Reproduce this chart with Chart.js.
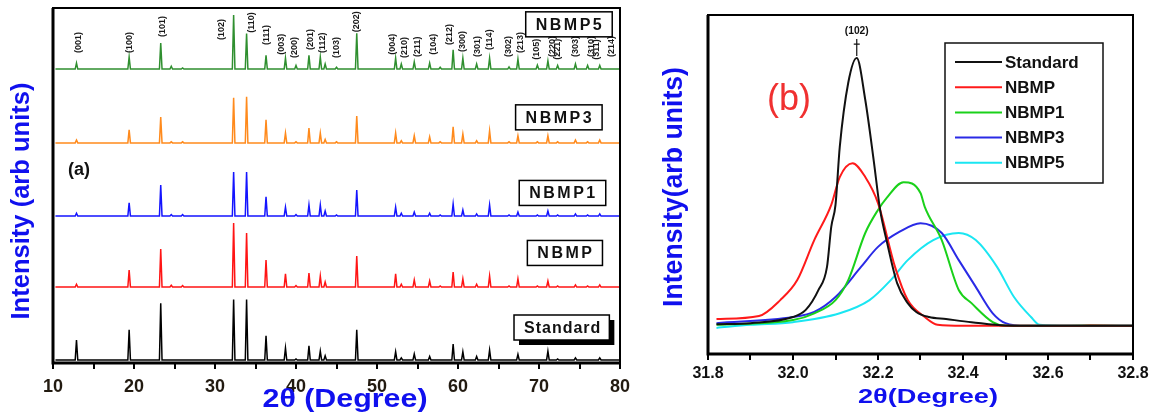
<!DOCTYPE html>
<html lang="en">
<head>
<meta charset="UTF-8">
<title>XRD patterns NBMP</title>
<script src="https://cdn.jsdelivr.net/npm/chart.js"></script>
<style>
  body { margin: 0; background: #fff; }
  .wrap { position: relative; width: 1158px; height: 414px; }
  canvas { position: absolute; top: 0; }
  #xrd { left: 0; }
  #peak { left: 640px; }
</style>
</head>
<body>
<div class="wrap">
  <canvas id="xrd" width="640" height="414"></canvas>
  <canvas id="peak" width="518" height="414"></canvas>
</div>
<script>
// ---------- panel (a): full patterns, stacked (arb. units) ----------
const samples = ['Standard', 'NBMP', 'NBMP1', 'NBMP3', 'NBMP5'];
const offsets = [0.85, 21.4, 41.4, 62, 82.8];
const peakPos = [12.9, 19.4, 23.3, 24.6, 26.0, 32.3, 33.9, 36.3, 38.7, 40.0, 41.6, 43.0, 43.6, 45.0, 47.5, 52.3,
                 53.0, 54.6, 56.5, 57.8, 59.4, 60.6, 62.3, 63.9, 66.3, 67.4, 69.8, 71.1, 72.3, 74.5, 76.0, 77.5];
const hStandard = [5.6, 8.5, 16, 0, 0, 17, 17, 6.8, 3.4, 0.3, 4, 2.5, 1.2, 0, 8.5, 2.3,
                   0.6, 1.7, 1, 0, 4.5, 2.3, 1, 2.8, 0, 1.6, 0, 2.5, 0.3, 0.6, 0, 0.6];
const hNBMP = [0.8, 4.8, 10.7, 0.5, 0.4, 18, 15.2, 7.6, 3.7, 0.4, 3.9, 3.1, 1.4, 0, 8.7, 3.7,
               0.8, 2, 1.7, 0.3, 4.2, 2.3, 0.8, 3.1, 0.3, 2.3, 0.3, 1.7, 0.3, 0.6, 0.3, 0.6];
const hNBMP1 = [0.8, 3.7, 8.7, 0.4, 0.4, 12.4, 12.4, 5.4, 2.5, 0.4, 3.1, 3.1, 1.4, 0.3, 7.3, 2.5,
                0.8, 1.1, 0.8, 0.3, 3.4, 1.7, 0.6, 3.1, 0.3, 1.1, 0.3, 1.4, 0.3, 0.6, 0.3, 0.6];
const hNBMP3 = [0.8, 3.7, 7.3, 0.3, 0.3, 12.7, 13, 6.5, 2.8, 0.3, 4.2, 2.8, 1, 0.3, 7.6, 2.8,
                0.6, 2, 1.7, 0.3, 4.5, 2.5, 0.6, 3.4, 0.3, 2, 0.3, 2, 0.3, 0.8, 0.3, 0.8];
const hNBMP5 = [1.7, 3.4, 7.3, 0.8, 0.3, 15.2, 10, 3.9, 3.1, 1, 3.9, 3.4, 1.4, 0.5, 10.1, 3.1,
                1.4, 2, 1.7, 0.5, 5.4, 3.1, 1.4, 3.1, 0.6, 2.8, 1.1, 2.3, 1, 1.4, 1, 1];
const colorsA = ['#000000', '#ff1414', '#1414ff', '#ff8a1c', '#2f8f2f'];

// miller indices written above the NBMP5 pattern
const hkl = ['(001)', '(100)', '(101)', '(102)', '(110)', '(111)', '(003)', '(200)', '(201)', '(112)',
             '(103)', '(202)', '(004)', '(210)', '(211)', '(104)', '(212)', '(300)', '(301)', '(114)',
             '(302)', '(213)', '(105)', '(220)', '(221)', '(303)', '(310)', '(311)', '(214)'];
const hklPos = [13.2, 19.5, 23.5, 30.8, 34.5, 36.4, 38.2, 39.8, 41.8, 43.3, 45.0, 47.5, 51.9, 53.4, 55.0,
                57.0, 58.9, 60.5, 62.4, 63.9, 66.2, 67.7, 69.7, 71.7, 72.3, 74.5, 76.5, 77.1, 79.0];
const hklBase = [87.3, 87.3, 91.8, 91.0, 93.0, 89.6, 86.8, 85.9, 88.2, 87.3, 85.9, 93.2, 86.8, 85.9, 86.2,
                 86.8, 89.6, 87.6, 86.2, 88.2, 86.2, 87.3, 85.4, 86.2, 85.4, 86.2, 86.2, 85.4, 86.2];

// sample name tags at the right of each pattern
const tagX = [72.8, 73.2, 72.9, 72.45, 73.7];
const tagY = [10, 31, 47.9, 69.2, 95.4];

// ---------- panel (b): (102) peak close-up ----------
const stdX = [31.82, 31.9, 32.0, 32.03, 32.06, 32.08, 32.09, 32.10, 32.11, 32.13, 32.15, 32.17, 32.19,
              32.205, 32.22, 32.245, 32.27, 32.29, 32.32, 32.36, 32.42, 32.5, 32.6, 32.7, 32.8];
const stdY = [8.8, 9.1, 10.9, 13, 18.9, 25.7, 37.5, 44, 61, 80, 87.3, 75, 57, 42.5, 33.6, 20.9, 15, 12.4,
              10.9, 10.3, 9.4, 8.4, 8.3, 8.3, 8.3];
const nbmpX = [31.82, 31.92, 31.97, 32.01, 32.05, 32.09, 32.11, 32.14, 32.17, 32.2, 32.24, 32.27, 32.31,
               32.34, 32.4, 32.5, 32.66, 32.7, 32.8];
const nbmpY = [10.3, 11.2, 15.9, 21.8, 33.6, 44, 52.2, 56.3, 52.2, 44.5, 25.7, 15.9, 10.9, 8.6, 8.3, 8.3,
               8.3, 8.4, 8.3];
const nbmp1X = [31.82, 32.0, 32.05, 32.1, 32.13, 32.17, 32.2, 32.22, 32.26, 32.3, 32.31, 32.35, 32.39,
                32.42, 32.47, 32.5, 32.6, 32.7, 32.8];
const nbmp1Y = [8.6, 10, 12, 15.9, 21.8, 35.7, 42.5, 46, 50.7, 47.5, 43.4, 33.6, 18.9, 15, 9.4, 8.3, 8.3,
                8.4, 8.3];
const nbmp3X = [31.82, 32.0, 32.05, 32.1, 32.16, 32.2, 32.25, 32.3, 32.35, 32.39, 32.43, 32.47, 32.5,
                32.55, 32.6, 32.7, 32.8];
const nbmp3Y = [9.1, 10.9, 12.4, 16.8, 25.7, 31.6, 36, 38.6, 35.7, 27.7, 19.8, 12, 9.1, 8.3, 8.3, 8.3, 8.3];
const nbmp5X = [31.82, 31.9, 32.0, 32.11, 32.18, 32.23, 32.27, 32.33, 32.39, 32.43, 32.48, 32.52, 32.56,
                32.58, 32.65, 32.7, 32.8];
const nbmp5Y = [7.7, 8.6, 9.4, 12, 15.9, 21.8, 27.7, 33.6, 35.7, 33.6, 25.7, 16.8, 10.9, 8.6, 8.3, 8.3, 8.3];
const colorsB = ['#111111', '#ff1a1a', '#1ad11a', '#2a2ae6', '#1ae6f2'];

const FONT = '"Liberation Sans", Arial, Helvetica, sans-serif';
Chart.defaults.font.family = FONT;
Chart.defaults.color = '#111';

// stick-like peaks on a flat baseline
function pattern(base, heights) {
    const w = 0.16;
    const pts = [{ x: 10.3, y: base }];
    peakPos.forEach((p, i) => {
        if (!heights[i]) return;
        pts.push({ x: p - w, y: base }, { x: p, y: base + heights[i] }, { x: p + w, y: base });
    });
    pts.push({ x: 79.9, y: base });
    return pts;
}

function zip(xs, ys) {
    return xs.map((v, i) => ({ x: v, y: ys[i] }));
}

function fitText(ctx, text, x, y, font, color, width, rotate) {
    ctx.save();
    ctx.font = font;
    ctx.fillStyle = color;
    ctx.textAlign = 'center';
    ctx.textBaseline = 'middle';
    ctx.translate(x, y);
    if (rotate) ctx.rotate(-Math.PI / 2);
    if (width) ctx.scale(width / ctx.measureText(text).width, 1);
    ctx.fillText(text, 0, 0);
    ctx.restore();
}

function drawFrame(chart) {
    const { ctx, chartArea: a } = chart;
    ctx.save();
    ctx.strokeStyle = '#000';
    ctx.lineWidth = 2;
    ctx.strokeRect(a.left, a.top, a.right - a.left, a.bottom - a.top);
    ctx.lineWidth = 3;
    ctx.beginPath();
    ctx.moveTo(a.left, a.top);
    ctx.lineTo(a.left, a.bottom);
    ctx.lineTo(a.right, a.bottom);
    ctx.stroke();
    ctx.restore();
}

const xrdDecor = {
    id: 'xrdDecor',
    afterDatasetsDraw(chart) {
        const { ctx, scales: { x, y } } = chart;
        drawFrame(chart);

        // hkl labels, rotated
        ctx.save();
        ctx.font = 'bold 9px ' + FONT;
        ctx.fillStyle = '#1a1a1a';
        ctx.textAlign = 'left';
        ctx.textBaseline = 'middle';
        hkl.forEach((t, i) => {
            ctx.save();
            ctx.translate(x.getPixelForValue(hklPos[i]), y.getPixelForValue(hklBase[i]));
            ctx.rotate(-Math.PI / 2);
            ctx.fillText(t, 0, 0);
            ctx.restore();
        });
        ctx.restore();

        // boxed sample names
        samples.forEach((t, i) => {
            const cx = x.getPixelForValue(tagX[i]);
            const cy = y.getPixelForValue(tagY[i]);
            ctx.save();
            ctx.font = 'bold 16px ' + FONT;
            ctx.letterSpacing = t === 'Standard' ? '1px' : '2.5px';
            const w = ctx.measureText(t).width + 18;
            const h = 25;
            if (t === 'Standard') {
                ctx.fillStyle = '#000';
                ctx.fillRect(cx - w / 2 + 5, cy - h / 2 + 5, w, h);
            }
            ctx.fillStyle = '#fff';
            ctx.fillRect(cx - w / 2, cy - h / 2, w, h);
            ctx.lineWidth = 1.5;
            ctx.strokeStyle = '#000';
            ctx.strokeRect(cx - w / 2, cy - h / 2, w, h);
            ctx.fillStyle = '#111';
            ctx.textAlign = 'center';
            ctx.textBaseline = 'middle';
            ctx.fillText(t, cx + 1, cy + 1);
            ctx.restore();
        });

        fitText(ctx, '(a)', 79, 170, 'bold 18px ' + FONT, '#111');
        fitText(ctx, '2θ (Degree)', 345, 400, 'bold 25px ' + FONT, '#1010ee', 165);
        fitText(ctx, 'Intensity (arb units)', 22, 201, 'bold 25px ' + FONT, '#1010ee', 237, true);
    }
};

const peakDecor = {
    id: 'peakDecor',
    afterDatasetsDraw(chart) {
        const { ctx, scales: { x, y } } = chart;
        drawFrame(chart);

        // (102) marker over the standard peak
        const px = x.getPixelForValue(32.15);
        const top = y.getPixelForValue(Math.max(...stdY));
        ctx.save();
        ctx.strokeStyle = '#111';
        ctx.lineWidth = 1.2;
        ctx.beginPath();
        ctx.moveTo(px, top - 2);
        ctx.lineTo(px, top - 19);
        ctx.moveTo(px - 3, top - 14);
        ctx.lineTo(px + 3, top - 14);
        ctx.stroke();
        ctx.restore();
        fitText(ctx, '(102)', px, top - 27, 'bold 11px ' + FONT, '#111', 24);

        // legend box
        ctx.save();
        ctx.fillStyle = '#fff';
        ctx.fillRect(305, 43, 158, 140);
        ctx.strokeStyle = '#111';
        ctx.lineWidth = 1.5;
        ctx.strokeRect(305, 43, 158, 140);
        chart.data.datasets.forEach((ds, i) => {
            const ly = 62 + i * 25.2;
            ctx.strokeStyle = ds.borderColor;
            ctx.lineWidth = 2;
            ctx.beginPath();
            ctx.moveTo(315, ly);
            ctx.lineTo(362, ly);
            ctx.stroke();
            ctx.fillStyle = '#111';
            ctx.font = 'bold 17px ' + FONT;
            ctx.textAlign = 'left';
            ctx.textBaseline = 'middle';
            ctx.fillText(ds.label, 365, ly + 1);
        });
        ctx.restore();

        fitText(ctx, '(b)', 149, 100, '36px ' + FONT, '#f03030');
        fitText(ctx, '2θ(Degree)', 288, 397, 'bold 21px ' + FONT, '#1010ee', 140);
        fitText(ctx, 'Intensity(arb units)', 35, 187, 'bold 27px ' + FONT, '#1010ee', 240, true);
    }
};

window.onload = function () {
    new Chart(document.getElementById('xrd').getContext('2d'), {
        type: 'line',
        data: {
            datasets: samples.map((s, i) => ({
                label: s,
                data: pattern(offsets[i], [hStandard, hNBMP, hNBMP1, hNBMP3, hNBMP5][i]),
                borderColor: colorsA[i],
                borderWidth: 1.5,
                pointRadius: 0,
                tension: 0,
                fill: false
            }))
        },
        options: {
            responsive: false,
            animation: false,
            layout: { padding: { top: 8, right: 20, left: 0, bottom: 0 } },
            plugins: { legend: { display: false }, tooltip: { enabled: false } },
            scales: {
                x: {
                    type: 'linear',
                    min: 10,
                    max: 80,
                    afterFit: function (s) { s.height = 51; },
                    border: { display: false },
                    grid: { drawOnChartArea: false, drawTicks: true, tickLength: 6, color: '#000', lineWidth: 2 },
                    ticks: {
                        stepSize: 5,
                        autoSkip: false,
                        maxRotation: 0,
                        padding: 7,
                        color: '#221a10',
                        font: { size: 18, weight: 'bold' },
                        callback: function (v) { return v % 10 === 0 ? v : ''; }
                    }
                },
                y: {
                    min: 0,
                    max: 100,
                    afterFit: function (s) { s.width = 53; },
                    border: { display: false },
                    grid: { display: false },
                    ticks: { display: false }
                }
            }
        },
        plugins: [xrdDecor]
    });

    new Chart(document.getElementById('peak').getContext('2d'), {
        type: 'line',
        data: {
            datasets: [
                { label: 'Standard', data: zip(stdX, stdY) },
                { label: 'NBMP', data: zip(nbmpX, nbmpY) },
                { label: 'NBMP1', data: zip(nbmp1X, nbmp1Y) },
                { label: 'NBMP3', data: zip(nbmp3X, nbmp3Y) },
                { label: 'NBMP5', data: zip(nbmp5X, nbmp5Y) }
            ].map((d, i) => Object.assign(d, {
                borderColor: colorsB[i],
                borderWidth: 2,
                pointRadius: 0,
                cubicInterpolationMode: 'monotone',
                fill: false
            }))
        },
        options: {
            responsive: false,
            animation: false,
            layout: { padding: { top: 15, right: 25, left: 0, bottom: 0 } },
            plugins: { legend: { display: false }, tooltip: { enabled: false } },
            scales: {
                x: {
                    type: 'linear',
                    min: 31.8,
                    max: 32.8,
                    afterFit: function (s) { s.height = 60; },
                    border: { display: false },
                    grid: { drawOnChartArea: false, drawTicks: true, tickLength: 6, color: '#000', lineWidth: 2 },
                    ticks: {
                        stepSize: 0.1,
                        autoSkip: false,
                        maxRotation: 0,
                        padding: 4,
                        color: '#111',
                        font: { size: 16, weight: 'bold' },
                        callback: function (v) {
                            const r = Math.round(v * 10);
                            return r % 2 === 0 ? (r / 10).toFixed(1) : '';
                        }
                    }
                },
                y: {
                    min: 0,
                    max: 100,
                    afterFit: function (s) { s.width = 68; },
                    border: { display: false },
                    grid: { display: false },
                    ticks: { display: false }
                }
            }
        },
        plugins: [peakDecor]
    });
};
</script>
</body>
</html>
